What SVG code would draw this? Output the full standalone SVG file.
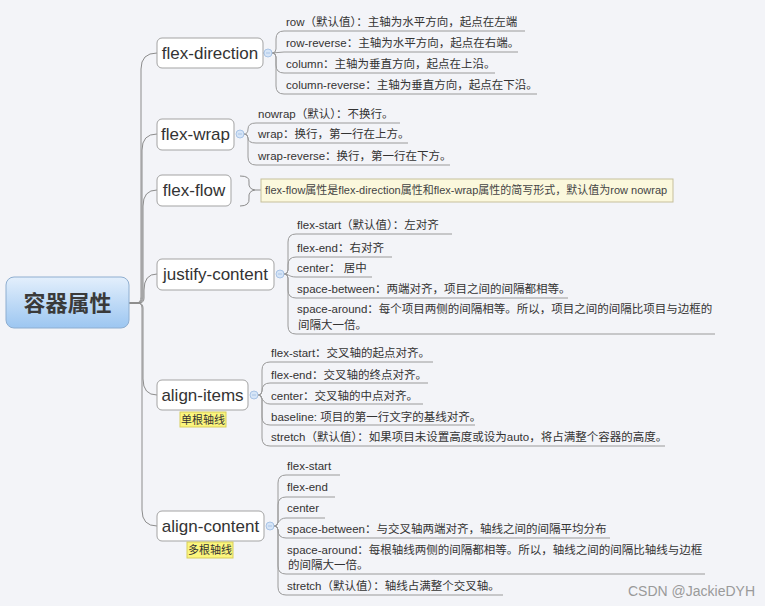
<svg xmlns="http://www.w3.org/2000/svg" width="765" height="606" viewBox="0 0 765 606">
<defs>
<linearGradient id="rootGrad" x1="0" y1="0" x2="0" y2="1">
<stop offset="0" stop-color="#e3effc"/>
<stop offset="1" stop-color="#9cc6f1"/>
</linearGradient>
</defs>
<style>
.bg{fill:#f3f4f8}
.root{fill:url(#rootGrad);stroke:#8eaed0;stroke-width:1}
.roott{font-family:"Noto Sans CJK SC","Noto Sans",sans-serif;font-size:22px;font-weight:bold;fill:#3a3a3a;text-anchor:middle}
.node{fill:#ffffff;stroke:#a3a3a3;stroke-width:1}
.nt{font-family:"Liberation Sans","Noto Sans CJK SC",sans-serif;font-size:17px;fill:#333;text-anchor:middle}
.ct{font-family:"Liberation Sans","Noto Sans CJK SC",sans-serif;font-size:11.5px;fill:#333}
.trunk{fill:none;stroke:#8c8c8c;stroke-width:1}
.conn{fill:none;stroke:#9a9a9a;stroke-width:1}
.dot{fill:#d6e5f7;stroke:#a9c4e6;stroke-width:1}
.dotl{stroke:#a9c4e6;stroke-width:1}
.lab{fill:#fbf57c;stroke:#d8cd5c;stroke-width:1}
.labt{font-family:"Noto Sans CJK SC",sans-serif;font-size:11px;fill:#333;text-anchor:middle}
.note{fill:#fbf8dc;stroke:#c6bf9c;stroke-width:1}
.notet{font-family:"Liberation Sans","Noto Sans CJK SC",sans-serif;font-size:11px;fill:#444}
.wm{font-family:"Liberation Sans",sans-serif;font-size:14px;fill:#9a9a9a}
</style>
<rect class="bg" x="0" y="0" width="765" height="606"/>

<g id="connectors">
<path class="trunk" d="M129,303 H136 Q141,303 141,297 V69 Q141,53 157,53"/>
<path class="trunk" d="M129,303 H137 Q142,303 142,297 V150 Q142,134 157,134"/>
<path class="trunk" d="M129,303 H138 Q143,303 143,297 V206 Q143,190 157,190"/>
<path class="trunk" d="M129,303 H139 Q144,303 144,298 V290 Q144,274 157,274"/>
<path class="trunk" d="M129,303 H138 Q143,303 143,308 V379 Q143,395 157,395"/>
<path class="trunk" d="M129,303 H137 Q142,303 142,308 V510 Q142,526 157,526"/>

<!-- flex-direction children -->
<path class="conn" d="M263,53 H264"/>
<path class="conn" d="M272,53 Q276,53 276,49 V39 Q276,31 284,31 H525"/>
<path class="conn" d="M272,53 L284,52 H518"/>
<path class="conn" d="M272,53 Q276,53 276,57 V65 Q276,73 284,73 H495"/>
<path class="conn" d="M272,53 Q276,53 276,57 V86 Q276,94 284,94 H537"/>

<!-- flex-wrap children -->
<path class="conn" d="M244,134 Q248,134 248,129 Q248,123 256,123 H400"/>
<path class="conn" d="M244,134 Q248,134 248,138 Q248,143 256,143 H408"/>
<path class="conn" d="M244,134 Q248,134 248,138 V157 Q248,165 256,165 H450"/>

<!-- flex-flow brace -->
<path class="trunk" d="M240,176 Q250,176 249,182 Q248,189 255,190 Q248,191 249,198 Q250,206 240,206"/>
<path class="trunk" d="M255,190 H261"/>

<!-- justify-content children -->
<path class="conn" d="M284,274 Q288,274 288,270 V242 Q288,234 296,234 H452"/>
<path class="conn" d="M284,274 Q288,274 288,270 V265 Q288,257 296,257 H392"/>
<path class="conn" d="M284,274 C289,274 289,277 296,277 H372"/>
<path class="conn" d="M284,274 Q288,274 288,278 V290 Q288,298 296,298 H568"/>
<path class="conn" d="M284,274 Q288,274 288,278 V326 Q288,334 296,334 H715"/>

<!-- align-items children -->
<path class="conn" d="M258,395 Q262,395 262,391 V370 Q262,362 270,362 H433"/>
<path class="conn" d="M258,395 Q262,395 262,391 Q262,383 270,383 H428"/>
<path class="conn" d="M258,395 C262,395 262,404 270,404 H423"/>
<path class="conn" d="M258,395 Q262,395 262,399 V417 Q262,425 270,425 H475"/>
<path class="conn" d="M258,395 Q262,395 262,399 V438 Q262,446 270,446 H665"/>

<!-- align-content children -->
<path class="conn" d="M274,526 Q278,526 278,522 V483 Q278,475 286,475 H340"/>
<path class="conn" d="M274,526 Q278,526 278,522 V505 Q278,497 286,497 H335"/>
<path class="conn" d="M274,526 C278,526 278,518 286,518 H325"/>
<path class="conn" d="M274,526 Q278,526 278,530 Q278,538 286,538 H610"/>
<path class="conn" d="M274,526 Q278,526 278,530 V566 Q278,574 286,574 H705"/>
<path class="conn" d="M274,526 Q278,526 278,530 V587 Q278,595 286,595 H503"/>
</g>

<g id="root">
<rect class="root" x="6" y="277" width="123" height="51" rx="8"/>
<text class="roott" x="67.5" y="311">容器属性</text>
</g>

<g id="flex-direction">
<rect class="node" x="157" y="38" width="106" height="30" rx="5"/>
<text class="nt" x="210" y="59">flex-direction</text>
<circle class="dot" cx="268" cy="53" r="4"/><path class="dotl" d="M266,53 H270"/>
</g>
<g id="flex-direction-children">
<text class="ct" x="286" y="26">row（默认值）：主轴为水平方向，起点在左端</text>
<text class="ct" x="286" y="47">row-reverse：主轴为水平方向，起点在右端。</text>
<text class="ct" x="286" y="68">column：主轴为垂直方向，起点在上沿。</text>
<text class="ct" x="286" y="89">column-reverse：主轴为垂直方向，起点在下沿。</text>
</g>

<g id="flex-wrap">
<rect class="node" x="157" y="119" width="77" height="31" rx="5"/>
<text class="nt" x="195.5" y="140">flex-wrap</text>
<circle class="dot" cx="240" cy="134" r="4"/><path class="dotl" d="M238,134 H242"/>
</g>
<g id="flex-wrap-children">
<text class="ct" x="258" y="118">nowrap（默认）：不换行。</text>
<text class="ct" x="258" y="138">wrap：换行，第一行在上方。</text>
<text class="ct" x="258" y="160">wrap-reverse：换行，第一行在下方。</text>
</g>

<g id="flex-flow">
<rect class="node" x="157" y="175" width="74" height="31" rx="5"/>
<text class="nt" x="194" y="196">flex-flow</text>
</g>
<g id="flex-flow-note">
<rect class="note" x="261" y="179" width="412" height="23"/>
<text class="notet" x="265" y="194">flex-flow属性是flex-direction属性和flex-wrap属性的简写形式，默认值为row nowrap</text>
</g>

<g id="justify-content">
<rect class="node" x="157" y="259" width="117" height="31" rx="5"/>
<text class="nt" x="215.5" y="280">justify-content</text>
<circle class="dot" cx="280" cy="274" r="4"/><path class="dotl" d="M278,274 H282"/>
</g>
<g id="justify-content-children">
<text class="ct" x="297" y="229">flex-start（默认值）：左对齐</text>
<text class="ct" x="297" y="252">flex-end：右对齐</text>
<text class="ct" x="297" y="272">center： 居中</text>
<text class="ct" x="297" y="293">space-between：两端对齐，项目之间的间隔都相等。</text>
<text class="ct" x="297" y="313">space-around：每个项目两侧的间隔相等。所以，项目之间的间隔比项目与边框的</text>
<text class="ct" x="298" y="329">间隔大一倍。</text>
</g>

<g id="align-items">
<rect class="node" x="157" y="380" width="91" height="30" rx="5"/>
<text class="nt" x="202.5" y="401">align-items</text>
<circle class="dot" cx="254" cy="395" r="4"/><path class="dotl" d="M252,395 H256"/>
<rect class="lab" x="180" y="412" width="46" height="15"/>
<text class="labt" x="203" y="423.5">单根轴线</text>
</g>
<g id="align-items-children">
<text class="ct" x="271" y="357">flex-start：交叉轴的起点对齐。</text>
<text class="ct" x="271" y="379">flex-end：交叉轴的终点对齐。</text>
<text class="ct" x="271" y="400">center：交叉轴的中点对齐。</text>
<text class="ct" x="271" y="421">baseline: 项目的第一行文字的基线对齐。</text>
<text class="ct" x="271" y="441">stretch（默认值）：如果项目未设置高度或设为auto，将占满整个容器的高度。</text>
</g>

<g id="align-content">
<rect class="node" x="157" y="511" width="107" height="30" rx="5"/>
<text class="nt" x="210.5" y="532">align-content</text>
<circle class="dot" cx="270" cy="526" r="4"/><path class="dotl" d="M268,526 H272"/>
<rect class="lab" x="187" y="542" width="46" height="16"/>
<text class="labt" x="210" y="554">多根轴线</text>
</g>
<g id="align-content-children">
<text class="ct" x="287" y="470">flex-start</text>
<text class="ct" x="287" y="491">flex-end</text>
<text class="ct" x="287" y="512">center</text>
<text class="ct" x="287" y="533">space-between：与交叉轴两端对齐，轴线之间的间隔平均分布</text>
<text class="ct" x="287" y="554">space-around：每根轴线两侧的间隔都相等。所以，轴线之间的间隔比轴线与边框</text>
<text class="ct" x="288" y="569">的间隔大一倍。</text>
<text class="ct" x="287" y="590">stretch（默认值）：轴线占满整个交叉轴。</text>
</g>

<text class="wm" x="628" y="596">CSDN @JackieDYH</text>
</svg>
